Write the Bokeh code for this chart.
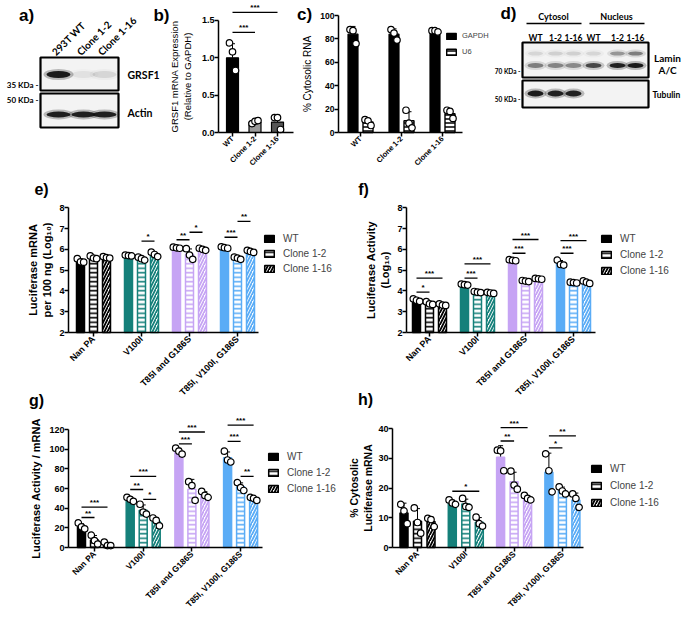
import numpy as np
from math import pi
from bokeh.plotting import figure
from bokeh.models import (Range1d, FixedTicker, Legend, LegendItem, Whisker,
                          TeeHead, ColumnDataSource, NumeralTickFormatter)
from bokeh.layouts import row, column
from bokeh.embed import file_html
from bokeh.resources import INLINE
from bokeh.core.properties import value

FONT = "Liberation Sans"
BFONT = "Lato"

# ---------------- data ----------------
# a) western blot (band intensities)
a_lanes = ["293T WT", "Clone 1-2", "Clone 1-16"]
a_grsf1 = [0.95, 0.06, 0.10]
a_actin = [0.92, 0.90, 0.90]

# b) GRSF1 mRNA
b_groups = ["WT", "Clone 1-2", "Clone 1-16"]
b_mean = [1.0, 0.14, 0.14]
b_pts = [[1.20, 1.08, 0.83], [0.12, 0.15, 0.16], [0.20, 0.20, 0.04]]
b_colors = ["#000000", "#9a9a9a", "#555555"]
b_sig = [(0, 1, 1.34, "***"), (0, 2, 1.61, "***")]

# c) % cytosolic RNA
c_groups = ["WT", "Clone 1-2", "Clone 1-16"]
c_gapdh_mean = [84, 84, 86]
c_gapdh_pts = [[88, 87, 76], [88, 85, 79], [87, 87, 86]]
c_u6_mean = [9, 10, 16]
c_u6_pts = [[11, 10, 6], [19, 8, 4], [19, 18, 12]]

# d) fractionation blot (band intensities)
d_lanes = ["WT", "1-2", "1-16", "WT", "1-2", "1-16"]
d_lamin_upper = [0.10, 0.12, 0.12, 0.10, 0.35, 0.45]
d_lamin_lower = [0.45, 0.42, 0.40, 0.70, 0.90, 0.95]
d_tubulin = [0.95, 0.90, 0.90, 0.0, 0.0, 0.0]

# e-h) [series][group]
mut_groups = ["Nan PA", "V100I", "T85I and G186S", "T85I, V100I, G186S"]
mut_colors = ["#000000", "#15807a", "#c6a4f4", "#5aacf6"]
series = ["WT", "Clone 1-2", "Clone 1-16"]

e_mean = [[5.44, 5.70, 6.07, 6.08],
          [5.60, 5.55, 5.76, 5.57],
          [5.61, 5.75, 6.00, 5.90]]
e_pts = [[[5.55, 5.40, 5.38], [5.72, 5.70, 5.68], [6.10, 6.07, 6.05], [6.12, 6.08, 6.05]],
         [[5.68, 5.58, 5.55], [5.62, 5.55, 5.48], [6.03, 5.72, 5.52], [5.62, 5.58, 5.52]],
         [[5.65, 5.60, 5.58], [5.86, 5.75, 5.65], [6.05, 6.00, 5.95], [5.95, 5.90, 5.85]]]
e_sig = [(1, 1, 2, 6.39, "*"), (2, 0, 1, 6.46, "**"), (2, 1, 2, 6.82, "*"),
         (3, 0, 1, 6.58, "***"), (3, 1, 2, 7.34, "**")]

f_mean = [[3.55, 4.30, 5.47, 5.33],
          [3.40, 3.94, 4.47, 4.40],
          [3.33, 3.90, 4.58, 4.42]]
f_pts = [[[3.62, 3.55, 3.50], [4.33, 4.30, 4.28], [5.50, 5.47, 5.45], [5.48, 5.27, 5.24]],
         [[3.48, 3.38, 3.35], [3.97, 3.94, 3.92], [4.50, 4.47, 4.45], [4.42, 4.40, 4.38]],
         [[3.38, 3.32, 3.30], [3.93, 3.90, 3.88], [4.60, 4.58, 4.56], [4.48, 4.42, 4.36]]]
f_sig = [(0, 0, 1, 3.94, "*"), (0, 0, 2, 4.61, "***"), (1, 0, 1, 4.61, "***"),
         (1, 0, 2, 5.30, "***"), (2, 0, 1, 5.81, "***"), (2, 0, 2, 6.47, "***"),
         (3, 0, 1, 5.81, "***"), (3, 0, 2, 6.42, "***")]

g_mean = [[21.0, 49.0, 98.0, 91.3],
          [7.7, 38.0, 59.3, 61.7],
          [3.2, 26.5, 53.7, 49.7]]
g_pts = [[[25.0, 21.0, 19.0], [51.0, 49.0, 47.0], [101.0, 98.0, 95.0], [98.0, 89.0, 87.0]],
         [[12.5, 7.0, 3.5], [44.0, 36.0, 34.0], [67.0, 63.0, 48.0], [66.0, 61.0, 58.0]],
         [[5.5, 2.0, 2.0], [30.0, 27.5, 22.0], [57.0, 53.0, 51.0], [51.0, 50.0, 48.0]]]
g_sig = [(0, 0, 1, 30.5, "**"), (0, 0, 2, 41.0, "***"), (1, 0, 1, 59.0, "**"),
         (1, 0, 2, 72.4, "***"), (1, 1, 2, 49.0, "*"), (2, 0, 1, 105.4, "***"),
         (2, 0, 2, 117.5, "***"), (3, 0, 1, 108.0, "***"), (3, 0, 2, 124.4, "***"),
         (3, 1, 2, 72.4, "**")]

h_mean = [[11.6, 15.2, 30.3, 25.3],
          [8.8, 14.6, 22.1, 19.1],
          [8.7, 8.5, 16.7, 16.0]]
h_pts = [[[14.5, 12.3, 8.0], [16.0, 15.0, 14.5], [32.7, 32.5, 25.8], [31.5, 25.8, 18.7]],
         [[13.3, 8.4, 4.8], [16.5, 13.8, 13.5], [25.7, 21.0, 19.6], [20.4, 19.0, 18.0]],
         [[9.8, 9.4, 7.0], [10.2, 8.0, 7.2], [17.5, 16.5, 16.0], [18.0, 16.5, 13.5]]]
h_sig = [(1, 0, 2, 18.9, "*"), (2, 0, 1, 35.8, "**"), (2, 0, 2, 40.3, "***"),
         (3, 0, 1, 33.5, "*"), (3, 0, 2, 37.5, "**")]


# ---------------- helpers ----------------
def style_axes(p, xfs="9px", yfs="9px", lab_fs="11px", lab_bold=True, tick_bold=True,
               lab_standoff=3):
    for ax in p.axis:
        ax.axis_line_width = 1.5
        ax.axis_line_color = "black"
        ax.major_tick_line_width = 1.5
        ax.major_tick_line_color = "black"
        ax.major_tick_out = 4
        ax.major_tick_in = 0
        ax.minor_tick_line_color = None
        ax.major_label_text_font = FONT
        ax.major_label_text_font_style = "bold" if tick_bold else "normal"
        ax.major_label_text_color = "black"
        ax.axis_label_text_font = FONT
        ax.axis_label_text_font_style = "bold" if lab_bold else "normal"
        ax.axis_label_text_font_size = lab_fs
        ax.axis_label_text_color = "black"
        ax.axis_label_standoff = lab_standoff
    p.xaxis.major_label_text_font_size = xfs
    p.yaxis.major_label_text_font_size = yfs
    p.xaxis.major_label_standoff = 1
    p.yaxis.major_label_standoff = 0
    p.xaxis.major_label_orientation = pi / 4
    p.xgrid.visible = False
    p.ygrid.visible = False
    p.outline_line_color = None


def axes_fig(FX0, FX1, FY0, FY1, X, Y, x_axis_at, y_axis_at):
    p = figure(width=FX1 - FX0, height=FY1 - FY0,
               x_range=Range1d(X(FX0), X(FX1)), y_range=Range1d(Y(FY1), Y(FY0)),
               toolbar_location=None, output_backend="svg",
               min_border_left=0, min_border_right=0, min_border_top=0, min_border_bottom=0)
    p.xaxis.fixed_location = x_axis_at
    p.yaxis.fixed_location = y_axis_at
    return p


def txt(p, x, y, s, size, bold=True, align="left", baseline="middle", angle=0.0, font=BFONT):
    p.text(x=[x], y=[y], text=[s], text_font=value(font), text_font_size=f"{size}px",
           text_font_style="bold" if bold else "normal", text_align=align,
           text_baseline=baseline, angle=angle, text_color="black")


def sig_marks(p, xa, xb, yv, t):
    p.segment(x0=[xa], y0=[yv], x1=[xb], y1=[yv], line_color="black", line_width=1.3)
    p.text(x=[(xa + xb) / 2], y=[yv], text=[t], text_align="center", text_baseline="bottom",
           y_offset=0, text_font_size="8px", text_font=value(FONT), text_font_style="bold",
           text_color="black")


def points(p, xs, vals, jit):
    px_, py_ = [], []
    for x, vs in zip(xs, vals):
        for k, v in enumerate(vs):
            px_.append(x + (k - 1) * jit)
            py_.append(v)
    p.scatter(px_, py_, size=6.5, marker="circle", fill_color="white", line_color="black",
              line_width=1.2)


def whiskers(p, xs, means, vals):
    sd = [float(np.std(v, ddof=1)) for v in vals]
    src = ColumnDataSource(dict(x=list(xs), lo=list(means), hi=[m + d for m, d in zip(means, sd)]))
    p.add_layout(Whisker(source=src, base="x", lower="lo", upper="hi", line_color="black",
                         line_width=1, upper_head=TeeHead(size=5, line_color="black", line_width=1),
                         lower_head=None))


def blot_fig(x0, x1):
    p = figure(width=x1 - x0, height=175, x_range=Range1d(x0, x1), y_range=Range1d(175, 0),
               toolbar_location=None, output_backend="svg", x_axis_type=None, y_axis_type=None,
               min_border_left=0, min_border_right=0, min_border_top=0, min_border_bottom=0)
    p.outline_line_color = None
    p.xgrid.visible = False
    p.ygrid.visible = False
    return p


def blot_box(p, l, r, t, b):
    p.quad(left=[l], right=[r], top=[t], bottom=[b], fill_color="#f3f3f3",
           line_color="black", line_width=2.2)


def bands(p, xs, y, w, h, inten):
    src = ColumnDataSource(dict(x=list(xs), y=[y] * len(xs), a=list(inten),
                                a2=[v * 0.3 for v in inten]))
    p.ellipse(x="x", y="y", width=w + 6, height=h + 4, fill_color="#222222", fill_alpha="a2",
              line_color=None, source=src)
    p.ellipse(x="x", y="y", width=w, height=h, fill_color="#111111", fill_alpha="a",
              line_color=None, source=src)


# ---------------- a) ----------------
pa = blot_fig(0, 170)
a_x = [58, 83, 104]
txt(pa, 26, 15, "a)", 17, font=FONT, align="center")
txt(pa, 161, 15, "b)", 17, font=FONT, align="center")
for x, s in zip(a_x, a_lanes):
    txt(pa, x - 5, 53, s, 10, angle=pi / 4)
blot_box(pa, 40, 118, 57, 90)
blot_box(pa, 40, 118, 93, 127)
bands(pa, a_x, 74, 24, 7, a_grsf1)
bands(pa, a_x, 114, 24, 6, a_actin)
txt(pa, 127, 74, "GRSF1", 10.5)
txt(pa, 127, 112, "Actin", 10.5)
txt(pa, 38, 84, "35 KDa -", 8, align="right")
txt(pa, 38, 99, "50 KDa -", 8, align="right")

# ---------------- b) ----------------
BX = lambda px: (px - 232) / 22.5
BY = lambda py: (132 - py) / 74.67
pb = axes_fig(170, 296, 0, 175, BX, BY, 0, BX(218))
style_axes(pb, xfs="7.5px", yfs="9px", lab_fs="9.5px", lab_bold=False, tick_bold=True,
           lab_standoff=6)
bpos = list(range(len(b_groups)))
pb.vbar(x=bpos, top=b_mean, width=12 / 22.5, fill_color=b_colors, line_color="black",
        line_width=1.2)
whiskers(pb, bpos, b_mean, b_pts)
points(pb, bpos, b_pts, 3 / 22.5)
for i, j, yv, t in b_sig:
    sig_marks(pb, i, j, yv, t)
pb.xaxis.ticker = FixedTicker(ticks=bpos)
pb.xaxis.major_label_overrides = {i: g for i, g in enumerate(b_groups)}
pb.xaxis.bounds = (BX(218), BX(293))
pb.yaxis.ticker = FixedTicker(ticks=[0, 0.5, 1.0, 1.5])
pb.yaxis.formatter = NumeralTickFormatter(format="0.0")
pb.yaxis.bounds = (0, 1.5)
pb.yaxis.axis_label = "GRSF1 mRNA Expression\n(Relative to GAPDH)"

# ---------------- c) ----------------
CX = lambda px: (px - 360) / 41.0
CY = lambda py: (132 - py) / 1.17
pc = axes_fig(296, 492, 0, 175, CX, CY, 0, CX(338))
style_axes(pc, xfs="7.5px", yfs="8.5px", lab_fs="10px", lab_bold=False, tick_bold=True,
           lab_standoff=4)
cpos = list(range(len(c_groups)))
coff = 7.5 / 41.0
gx = [g - coff for g in cpos]
ux = [g + coff for g in cpos]
rg = pc.vbar(x=gx, top=c_gapdh_mean, width=10 / 41.0, fill_color="black", line_color="black",
             line_width=1.2)
ru = pc.vbar(x=ux, top=c_u6_mean, width=10 / 41.0, fill_color="white", line_color="black",
             line_width=1.4, hatch_pattern="horizontal_line", hatch_color="black",
             hatch_scale=4, hatch_weight=1.5)
whiskers(pc, gx, c_gapdh_mean, c_gapdh_pts)
whiskers(pc, ux, c_u6_mean, c_u6_pts)
points(pc, gx, c_gapdh_pts, 3 / 41.0)
points(pc, ux, c_u6_pts, 3 / 41.0)
pc.xaxis.ticker = FixedTicker(ticks=cpos)
pc.xaxis.major_label_overrides = {i: g for i, g in enumerate(c_groups)}
pc.xaxis.bounds = (CX(338), CX(462))
pc.yaxis.ticker = FixedTicker(ticks=[0, 20, 40, 60, 80, 100])
pc.yaxis.bounds = (0, 100)
pc.yaxis.axis_label = "% Cytosolic RNA"
txt(pc, CX(304), CY(14), "c)", 17, font=FONT, align="center")
cleg = Legend(items=[LegendItem(label="GAPDH", renderers=[rg], index=0),
                     LegendItem(label="U6", renderers=[ru], index=0)],
              location=(445 - 296, 175 - 56), glyph_width=12, glyph_height=8,
              label_text_font=FONT, label_text_font_size="7.5px", label_height=8,
              label_standoff=5, spacing=7, padding=0, margin=0, border_line_color=None,
              background_fill_alpha=0)
pc.add_layout(cleg)

# ---------------- d) ----------------
pd_ = blot_fig(492, 684)
d_x = [535, 555, 573, 593, 617, 635]
txt(pd_, 508, 13, "d)", 17, font=FONT, align="center")
txt(pd_, 553, 16, "Cytosol", 9, align="center")
txt(pd_, 616, 16, "Nucleus", 9, align="center")
pd_.segment(x0=[526, 589], y0=[23, 23], x1=[581, 644], y1=[23, 23], line_color="black",
            line_width=1.5)
for x, s in zip(d_x, d_lanes):
    txt(pd_, x, 37, s, 8.5, align="center")
blot_box(pd_, 522, 648, 42, 77)
blot_box(pd_, 522, 648, 80, 107)
bands(pd_, d_x, 53, 15, 4, d_lamin_upper)
bands(pd_, d_x, 65, 16, 5, d_lamin_lower)
bands(pd_, d_x, 93, 16, 6, d_tubulin)
txt(pd_, 667, 57, "Lamin", 10, align="center")
txt(pd_, 667, 69, "A/C", 10, align="center")
txt(pd_, 652, 94, "Tubulin", 8.5)
txt(pd_, 520, 71, "70 KDa -", 6.5, align="right")
txt(pd_, 520, 99, "50 KDa -", 6.5, align="right")


# ---------------- e-h ----------------
def bar_panel(mean, pts, sig, c):
    X = lambda px: (px - c["x0"]) / c["xs"]
    Y = lambda py: c["ybase"] + (c["y0"] - py) / c["ys"]
    p = axes_fig(c["FX0"], c["FX1"], c["FY0"], c["FY1"], X, Y, c["ybase"], X(c["axx"]))
    style_axes(p, xfs=c["xfs"], lab_fs=c["lfs"], lab_standoff=c["lso"])
    off = c["off"] / c["xs"]
    bw = c["bw"] / c["xs"]
    jit = 3.2 / c["xs"]
    ng = len(mut_groups)
    rends = []
    for s in range(3):
        gxs = [g + (s - 1) * off for g in range(ng)]
        src = ColumnDataSource(dict(x=gxs, top=mean[s], colr=mut_colors,
                                    fillc=mut_colors if s == 0 else ["white"] * ng))
        kw = {}
        if s == 1:
            kw = dict(hatch_pattern="horizontal_line", hatch_color="colr", hatch_scale=4.5,
                      hatch_weight=1.6)
        if s == 2:
            kw = dict(hatch_pattern="right_diagonal_line", hatch_color="colr", hatch_scale=6,
                      hatch_weight=1.8)
        r = p.vbar(x="x", top="top", bottom=c["ybase"], width=bw, fill_color="fillc",
                   line_color="colr", line_width=1.5, source=src, **kw)
        rends.append(r)
        whiskers(p, gxs, mean[s], pts[s])
        points(p, gxs, pts[s], jit)
    for (g, i, j, yv, t) in sig:
        sig_marks(p, g + (i - 1) * off, g + (j - 1) * off, yv, t)
    p.xaxis.ticker = FixedTicker(ticks=list(range(ng)))
    p.xaxis.major_label_overrides = {i: gname for i, gname in enumerate(mut_groups)}
    p.xaxis.bounds = (X(c["axx"]), X(c["xend"]))
    p.yaxis.ticker = FixedTicker(ticks=c["yticks"])
    p.yaxis.bounds = (c["ybase"], c["ytop"])
    p.yaxis.axis_label = c["ylabel"]
    leg = Legend(items=[LegendItem(label=series[s], renderers=[rends[s]], index=0)
                        for s in range(3)],
                 location=(c["lx"] - c["FX0"], c["FY1"] - c["lyb"]), glyph_width=12,
                 glyph_height=9, label_text_font=FONT, label_text_font_size="10px",
                 label_height=10, label_standoff=8, spacing=c["lsp"], padding=0, margin=0,
                 border_line_color=None, background_fill_alpha=0)
    p.add_layout(leg)
    for s, lx, ly in c["labels"]:
        txt(p, X(lx), Y(ly), s, 16, font=FONT, align="center")
    return p


pe = bar_panel(e_mean, e_pts, e_sig, dict(
    FX0=0, FX1=350, FY0=175, FY1=409, x0=93, xs=48, y0=332, ys=20.8, ybase=2, xfs="9px",
    axx=68, xend=258, off=13, bw=8, yticks=[2, 3, 4, 5, 6, 7, 8], ytop=8, lso=3, lfs="11px",
    ylabel="Luciferase mRNA\nper 100 ng (Log\u2081\u2080)", lx=263, lyb=274, lsp=4,
    labels=[("e)", 41, 189), ("g)", 36, 400)]))

pf = bar_panel(f_mean, f_pts, f_sig, dict(
    FX0=350, FX1=684, FY0=175, FY1=409, x0=429, xs=48, y0=332, ys=20.8, ybase=2, xfs="9px",
    axx=406, xend=595, off=13, bw=8, yticks=[2, 3, 4, 5, 6, 7, 8], ytop=8, lso=3, lfs="11px",
    ylabel="Luciferase Activity\n(Log\u2081\u2080)", lx=600, lyb=276, lsp=5,
    labels=[("f)", 363, 189), ("h)", 365, 399)]))

pg = bar_panel(g_mean, g_pts, g_sig, dict(
    FX0=0, FX1=346, FY0=409, FY1=612, x0=94, xs=48.7, y0=547, ys=0.983, ybase=0, xfs="8.5px",
    axx=68, xend=262, off=13, bw=8, yticks=[0, 20, 40, 60, 80, 100, 120], ytop=120, lso=4,
    lfs="11px", ylabel="Luciferase Activity / mRNA", lx=267, lyb=494, lsp=5, labels=[]))

ph = bar_panel(h_mean, h_pts, h_sig, dict(
    FX0=346, FX1=684, FY0=409, FY1=612, x0=417, xs=48.3, y0=547, ys=2.975, ybase=0, xfs="8.5px",
    axx=392, xend=583, off=13.5, bw=8, yticks=[0, 10, 20, 30, 40], ytop=40, lso=1,
    lfs="10.5px", ylabel="% Cytosolic\nLuciferase mRNA", lx=590, lyb=508, lsp=6, labels=[]))

layout = column(row(pa, pb, pc, pd_, spacing=0),
                row(pe, pf, spacing=0),
                row(pg, ph, spacing=0), spacing=0)

open("out.html", "w").write(file_html(layout, INLINE, title="GRSF1 figure"))
